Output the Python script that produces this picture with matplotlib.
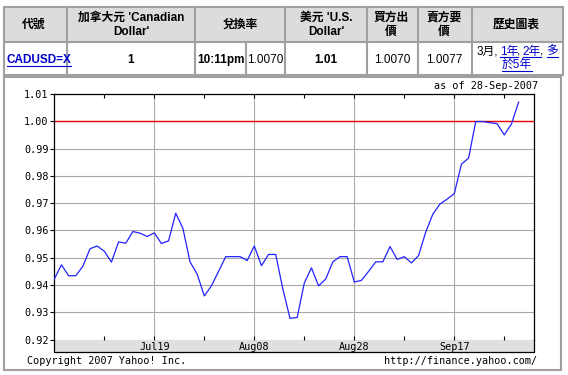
import matplotlib
matplotlib.use("Agg")
import matplotlib.pyplot as plt
from matplotlib.patches import Rectangle
import numpy as np
import pandas as pd

# ---------------- data ----------------
dates = pd.bdate_range("2007-06-29", "2007-09-28")
rates = [0.9422, 0.9474, 0.9434, 0.9434, 0.9469, 0.9533, 0.9543, 0.9524, 0.9484, 0.9558,
         0.9553, 0.9596, 0.9590, 0.9578, 0.9591, 0.9552, 0.9562, 0.9663, 0.9608, 0.9485,
         0.9440, 0.9360, 0.9397, 0.9450, 0.9504, 0.9504, 0.9504, 0.9490, 0.9543, 0.9471,
         0.9512, 0.9512, 0.9385, 0.9278, 0.9281, 0.9407, 0.9463, 0.9397, 0.9422, 0.9485,
         0.9504, 0.9504, 0.9411, 0.9417, 0.9450, 0.9485, 0.9485, 0.9541, 0.9494, 0.9504,
         0.9481, 0.9508, 0.9594, 0.9660, 0.9697, 0.9715, 0.9735, 0.9843, 0.9865, 0.9999,
         0.9999, 0.9995, 0.9991, 0.9950, 0.9990, 1.0070]
x_major_labels = ["Jul19", "Aug08", "Aug28", "Sep17"]
y_ticks = [0.92, 0.93, 0.94, 0.95, 0.96, 0.97, 0.98, 0.99, 1.00, 1.01]
ref_level = 1.00

header_cells = ["代號", "加拿大元 'Canadian\nDollar'", "兌換率", "美元 'U.S.\nDollar'",
                "買方出\n價", "賣方要\n價", "歷史圖表"]
symbol = "CADUSD=X"
cad_amount = "1"
trade_time = "10:11pm"
rate_text = "1.0070"
usd_amount = "1.01"
bid_text = "1.0070"
ask_text = "1.0077"
as_of = "as of 28-Sep-2007"
copyright_text = "Copyright 2007 Yahoo! Inc."
url_text = "http://finance.yahoo.com/"

W, H = 568, 375
fig = plt.figure(figsize=(W / 100, H / 100), dpi=100)
fig.patch.set_facecolor("white")

# overlay in pixel coordinates
ov = fig.add_axes([0, 0, 1, 1], zorder=0)
ov.set_xlim(0, W)
ov.set_ylim(H, 0)
ov.axis("off")

CJK = ["Liberation Sans", "Noto Sans CJK TC"]
MONO = "DejaVu Sans Mono"
MONO_SIZE = 7.3
LINK = "#0000cc"
BORDER = "#a0a0a0"

# ---------------- table ----------------
col_edges = [4, 67, 195, 285, 367, 418, 472, 563]
row_top, row_mid, row_bot = 7, 42, 75
ov.add_patch(Rectangle((col_edges[0], row_top), col_edges[-1] - col_edges[0], row_mid - row_top,
                       facecolor="#dcdcdc", edgecolor="none"))
ov.add_patch(Rectangle((col_edges[0], row_top), col_edges[-1] - col_edges[0], row_bot - row_top,
                       facecolor="none", edgecolor=BORDER, lw=1.5))
ov.plot([col_edges[0], col_edges[-1]], [row_mid, row_mid], color=BORDER, lw=1.5)
for xe in col_edges[1:-1]:
    ov.plot([xe, xe], [row_top, row_bot], color=BORDER, lw=1.5)
ov.plot([246, 246], [row_mid, row_bot], color=BORDER, lw=1.5)

hdr_centers = [34, 131, 240, 326, 391, 444, 516.7]
hdr_kw = dict(family=CJK, fontsize=8.5, fontweight="bold", ha="center", va="center",
              linespacing=1.25)
for cx, txt in zip(hdr_centers, header_cells):
    ov.text(cx, 25, txt, **hdr_kw)

row_y = 60
links = []
links.append(ov.text(6.5, row_y, symbol, family=CJK, fontsize=8.5, fontweight="bold",
                     color=LINK, ha="left", va="center"))
ov.text(131, row_y, cad_amount, family=CJK, fontsize=8.5, fontweight="bold", ha="center", va="center")
ov.text(197, row_y, trade_time, family=CJK, fontsize=8.5, fontweight="bold", ha="left", va="center")
ov.text(265, row_y, rate_text, family=CJK, fontsize=8.5, ha="center", va="center")
ov.text(326, row_y, usd_amount, family=CJK, fontsize=8.5, fontweight="bold", ha="center", va="center")
ov.text(392, row_y, bid_text, family=CJK, fontsize=8.5, ha="center", va="center")
ov.text(444, row_y, ask_text, family=CJK, fontsize=8.5, ha="center", va="center")

# history links
hist_kw = dict(family=CJK, fontsize=8.5, va="center", ha="left")
ov.text(476.7, 51.5, "3月,", **hist_kw)
links.append(ov.text(500, 51.5, "1年", color=LINK, **hist_kw))
ov.text(517, 51.5, ",", **hist_kw)
links.append(ov.text(522.7, 51.5, "2年", color=LINK, **hist_kw))
ov.text(539.5, 51.5, ",", **hist_kw)
links.append(ov.text(546.5, 51.5, "多", color=LINK, **hist_kw))
links.append(ov.text(516.7, 65, "於5年", color=LINK, family=CJK, fontsize=8.5,
                     va="center", ha="center"))

# ---------------- chart container ----------------
ov.add_patch(Rectangle((3.5, 76.5), 557, 293, facecolor="white", edgecolor=BORDER, lw=1.5))

L, R, T, B = 54.3, 534.3, 94.0, 339.6
band_bot = 352
ov.add_patch(Rectangle((L, B), R - L, band_bot - B, facecolor="#e0e0e0", edgecolor="none"))
ov.plot([L, L, R, R], [B, band_bot, band_bot, B], color="black", lw=0.9)

ov.text(537.7, 85.7, as_of, family=MONO, fontsize=MONO_SIZE, ha="right", va="center")
ov.text(26.7, 361, copyright_text, family=MONO, fontsize=MONO_SIZE, ha="left", va="center")
ov.text(537.5, 361, url_text, family=MONO, fontsize=MONO_SIZE, ha="right", va="center")

# ---------------- main plot ----------------
ax = fig.add_axes([L / W, 1 - B / H, (R - L) / W, (B - T) / H], zorder=2)
idx = np.arange(len(rates))
ax.plot(idx, rates, color="#2222ff", lw=0.9, zorder=3)
ax.axhline(ref_level, color="#ee0000", lw=1.0, zorder=2)
ax.set_xlim(0, 67.2)
ax.set_ylim(y_ticks[0], y_ticks[-1])

day_labels = list(dates.strftime("%b%d"))
major_pos = [day_labels.index(lbl) for lbl in x_major_labels]
step = major_pos[1] - major_pos[0]
minor_pos = [p - step // 2 for p in major_pos] + [major_pos[-1] + step // 2]
ax.set_xticks(major_pos)
ax.set_xticklabels(x_major_labels, family=MONO, fontsize=MONO_SIZE)
ax.set_xticks(minor_pos, minor=True)
ax.set_yticks(y_ticks)
ax.set_yticklabels(["%.2f" % v for v in y_ticks], family=MONO, fontsize=MONO_SIZE)

ax.grid(True, which="major", color="#a9a9a9", lw=0.8, zorder=1)
ax.set_axisbelow(True)
ax.tick_params(axis="x", which="both", direction="in", top=True, bottom=True,
               length=3, width=0.8, pad=1.5, colors="black")
ax.tick_params(axis="y", which="major", direction="out", left=True, right=False,
               length=3, width=0.8, pad=1.2)
for s in ["left", "top", "right"]:
    ax.spines[s].set_linewidth(0.9)
ax.spines["bottom"].set_visible(False)

# underline links
fig.canvas.draw()
r = fig.canvas.get_renderer()
inv = ov.transData.inverted()
for t in links:
    bb = t.get_window_extent(r)
    (x0, y0), (x1, _) = inv.transform([(bb.x0, bb.y0), (bb.x1, bb.y0)])
    ov.plot([x0, x1], [y0 - 0.5, y0 - 0.5], color=LINK, lw=0.8)

fig.savefig("out.png", dpi=100)
